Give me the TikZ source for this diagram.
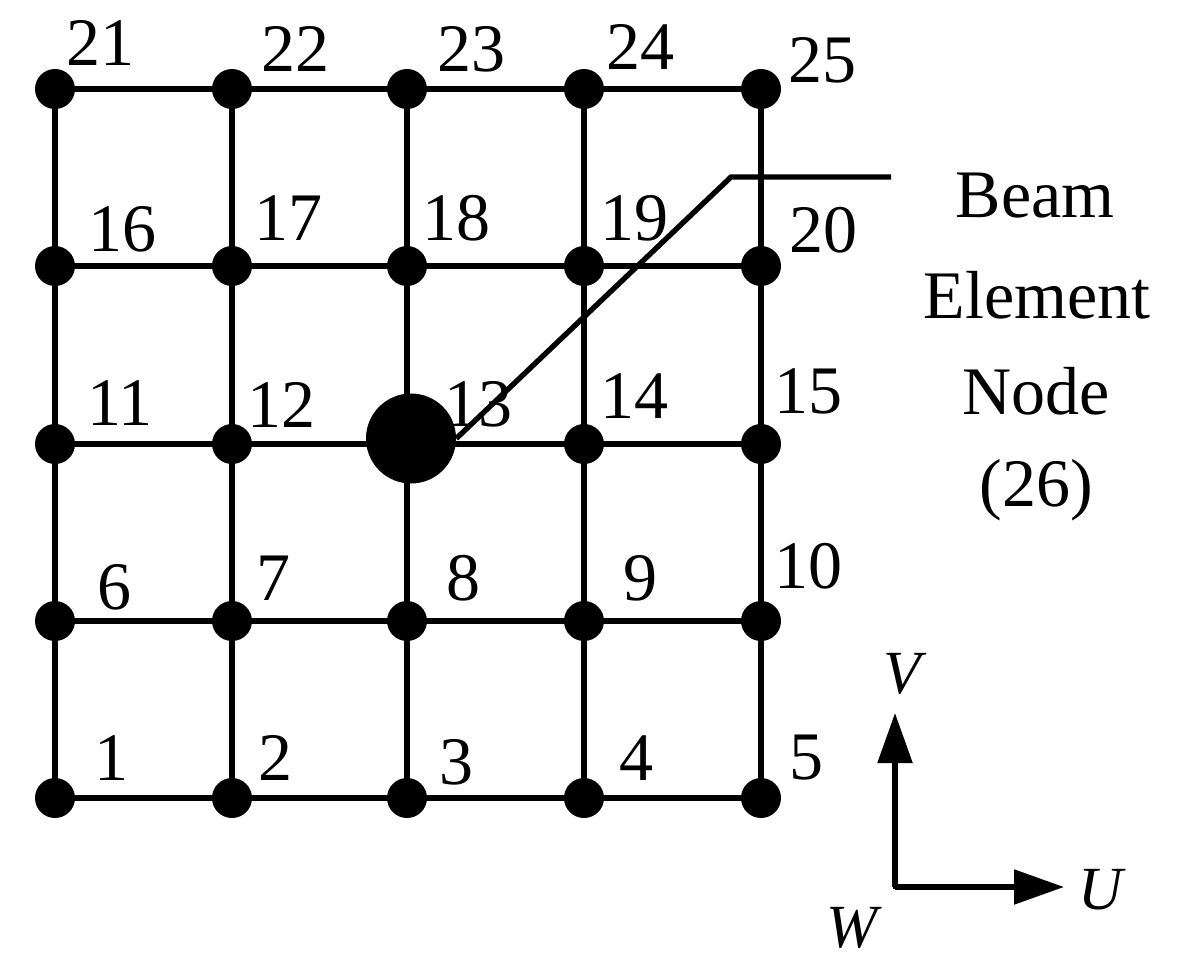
\documentclass[tikz,border=0pt]{standalone}
\usepackage{fontspec}
\setmainfont{Liberation Serif}
\usetikzlibrary{arrows.meta}
\tikzset{
 gridnode/.style={circle,fill=black,inner sep=0pt,minimum size=30pt},
 bignode/.style={circle,fill=black,inner sep=0pt,minimum size=67.5pt},
 gridline/.style={line width=4pt,line join=miter},
 lab/.style={font=\fontsize{51pt}{51pt}\selectfont,inner sep=0pt,anchor=center},
 axlab/.style={font=\itshape\fontsize{46pt}{46pt}\selectfont,inner sep=0pt,anchor=center},
}
\begin{document}
\begin{tikzpicture}[x=0.75pt,y=-0.75pt]
\useasboundingbox (0,0) rectangle (1177,971);
\fill[white] (0,0) rectangle (1177,971);
\foreach \n/\x/\y in {1/55/798,2/232/798,3/407/798,4/584/798,5/761/798,
 6/55/621,7/232/621,8/407/621,9/584/621,10/761/621,
 11/55/444,12/232/444,14/584/444,15/761/444,
 16/55/266,17/232/266,18/407/266,19/584/266,20/761/266,
 21/55/89,22/232/89,23/407/89,24/584/89,25/761/89}
 {\node[gridnode] (n\n) at (\x,\y) {};}
\node[bignode] (n13) at (411,438.5) {};
\coordinate (g13) at (407,444);
\coordinate (b1) at (731,177);
\coordinate (b2) at (891,177);
\coordinate (o) at (895,887);
\coordinate (vt) at (895,713);
\coordinate (ut) at (1064,887);
% grid connectors
\foreach \a/\b in {21/22,22/23,23/24,24/25,16/17,17/18,18/19,19/20,11/12,14/15,
 6/7,7/8,8/9,9/10,1/2,2/3,3/4,4/5,
 21/16,16/11,11/6,6/1,22/17,17/12,12/7,7/2,23/18,8/3,24/19,19/14,14/9,9/4,25/20,20/15,15/10,10/5}
 {\draw[gridline] (n\a.center) -- (n\b.center);}
\draw[gridline] (n12.center) -- (g13);
\draw[gridline] (g13) -- (n14.center);
\draw[gridline] (n18.center) -- (g13);
\draw[gridline] (g13) -- (n8.center);
\draw[gridline] (n13.0) -- (b1) -- (b2);
% labels
\foreach \t/\x/\y in {21/100/43,22/295/49,23/471/49,24/640/47,25/822/60,
 16/122/229,17/288/218,18/456/218,19/634/218,20/823/230,
 11/120/403,12/281/405,13/478/404,14/634/396,15/808/391,
 6/114/587,7/273/578,8/463/578,9/640/578,10/808/566,
 1/111/758,2/275/758,3/456/762,4/636/758,5/806/758}
 {\node[lab] (t\t) at (\x,\y) {\t};}
\node[lab] (l1) at (1035,196) {Beam};
\node[lab] (l2) at (1037,295) {Element};
\node[lab] (l3) at (1036,391) {Node};
\node[lab] (l4) at (1036,490) {(26)};
% axes
\draw[gridline,-{Triangle[length=37.5pt,width=25.5pt]}] (o) -- (vt);
\draw[gridline,-{Triangle[length=37.5pt,width=25.5pt]}] (o) -- (ut);
\fill (893,889) rectangle (897,885);
\node[axlab] (V) at (902,674) {V};
\node[axlab] (U) at (1100.5,890) {U};
\node[axlab] (W) at (852,928) {W};
\end{tikzpicture}
\end{document}
